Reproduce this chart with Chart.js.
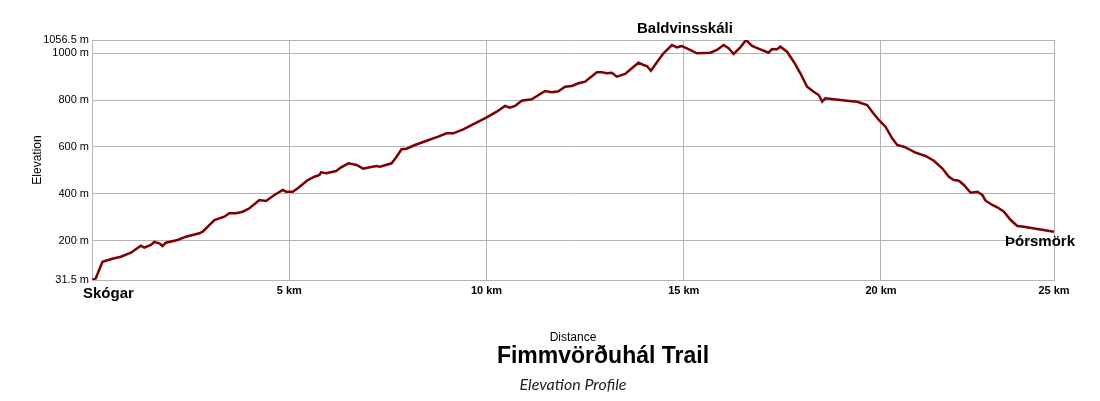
<!DOCTYPE html>
<html><head><meta charset="utf-8">
<script src="https://cdn.jsdelivr.net/npm/chart.js@4/dist/chart.umd.min.js"></script>
<style>html,body{margin:0;padding:0;background:#fff}#wrap{width:1100px;height:401px;position:relative}</style>
</head><body><div id="wrap"><canvas id="c" width="1100" height="401"></canvas></div>
<script>
// ---- data ----
const distanceKm = [0,0.096,0.266,0.350,0.520,0.731,0.985,1.239,1.325,1.492,1.579,1.706,1.789,1.873,2.170,2.381,2.721,2.805,3.102,3.355,3.482,3.650,3.820,3.990,4.244,4.411,4.624,4.835,4.919,5.089,5.216,5.470,5.640,5.766,5.807,5.934,6.188,6.315,6.503,6.706,6.873,7.043,7.213,7.297,7.594,7.721,7.848,7.975,8.185,8.482,8.777,8.990,9.157,9.411,9.708,10.005,10.259,10.470,10.596,10.723,10.893,11.147,11.485,11.655,11.822,11.992,12.162,12.330,12.500,12.797,12.924,13.051,13.178,13.305,13.515,13.685,13.853,13.980,14.066,14.168,14.360,14.487,14.701,14.827,14.954,15.081,15.335,15.673,15.843,16.010,16.137,16.264,16.434,16.579,16.731,16.942,17.152,17.239,17.365,17.449,17.619,17.787,17.957,18.127,18.294,18.421,18.508,18.591,18.802,19.142,19.396,19.650,19.777,19.944,20.114,20.284,20.411,20.579,20.749,20.876,21.129,21.340,21.553,21.721,21.848,21.975,22.102,22.272,22.442,22.569,22.652,22.822,22.949,23.117,23.287,23.457,23.624,23.964,24.386];
const elevationM = [31.5,38.7,109.6,113.9,122.4,131,148,178,169.4,181,193.8,188.2,176.7,190.8,202.3,216.4,230.9,237.8,287.7,301.8,316.3,316.3,323.2,337.7,373.1,368.9,394.5,415.8,408.6,408.6,423.1,458.5,472.7,479.9,491.5,487.2,497,512.8,529.9,522.6,506.8,512.8,518.4,515.4,529.9,558.1,589.7,592.2,608,626.4,643.5,658,658,675.1,700.7,726.4,750.3,774.6,767.4,774.6,797.3,803.2,838.7,833.1,837.4,857,860,871.6,878.4,918.5,918.5,914.3,916.8,899.8,911.3,935.6,959.5,949.7,945.5,925.4,971.1,999.7,1035.1,1025.3,1030.9,1021.1,999.7,1002.3,1013.8,1035.1,1021.1,996.7,1025.3,1056.5,1030.9,1016.8,1002.3,1018.1,1016.8,1027.9,1006.5,963.8,914.3,857,835.7,821.6,793,807.5,803.2,797.3,793,778.9,750.3,714.8,686.2,636.7,608,600.8,586.7,575.2,561.1,541,508.5,472.7,458.5,455.6,437.2,404.3,408.6,394.5,370.1,351.8,342,323.2,287.7,262.1,259.1,249.3,237.8];
const yTickValues = [31.5,200,400,600,800,1000,1056.5];
const xTickValues = [0,5,10,15,20,24.386];
const xTickLabels = ['','5 km','10 km','15 km','20 km','25 km'];
const placeNames = ['Skógar','Baldvinsskáli','Þórsmörk'];
const placeKm = [0,15.03,24.386];
const placeM = [31.5,1030,237.8];
const chartTitle = 'Fimmvörðuhál Trail';
const chartSubtitle = 'Elevation Profile';

const SANS = '"Liberation Sans", Arial, Helvetica, sans-serif';
const GRID = '#b4b4b4';

const points = distanceKm.map((x,i)=>({x, y: elevationM[i]}));

const labelsPlugin = {
  id: 'labels',
  afterDraw(chart) {
    const {ctx, chartArea, scales:{x, y}} = chart;
    ctx.save();
    ctx.fillStyle = '#000';
    ctx.font = 'bold 15px ' + SANS;
    ctx.textBaseline = 'middle';
    ctx.textAlign = 'left';
    ctx.fillText(placeNames[0], x.getPixelForValue(placeKm[0]) - 9, chartArea.bottom + 14);
    ctx.textAlign = 'center';
    ctx.fillText(placeNames[1], x.getPixelForValue(placeKm[1]), chartArea.top - 11);
    ctx.fillText(placeNames[2], x.getPixelForValue(placeKm[2]) - 14, y.getPixelForValue(placeM[2]) + 10);
    const cx = (chartArea.left + chartArea.right) / 2;
    ctx.font = 'bold 23px ' + SANS;
    ctx.fillText(chartTitle, cx + 30, 357);
    ctx.font = 'italic 16px Lato, "Open Sans", sans-serif';
    ctx.fillStyle = '#222';
    ctx.fillText(chartSubtitle, cx, 385);
    ctx.restore();
  }
};

new Chart(document.getElementById('c'), {
  type: 'line',
  data: {
    datasets: [{
      data: points,
      borderColor: '#800000',
      borderWidth: 2.5,
      pointRadius: 0,
      tension: 0,
      fill: false
    }]
  },
  options: {
    responsive: false,
    animation: false,
    devicePixelRatio: 1,
    layout: { padding: { top: 40, right: 46, bottom: 51, left: 0 } },
    plugins: { legend: { display: false }, tooltip: { enabled: false }, title: { display: false } },
    scales: {
      x: {
        type: 'linear',
        min: 0,
        max: 24.386,
        afterBuildTicks: s => { s.ticks = xTickValues.map(v => ({ value: v })); },
        afterFit: s => { s.height = 70; },
        ticks: {
          autoSkip: false, maxRotation: 0, padding: 4,
          color: '#000',
          font: { family: SANS, size: 11, weight: 'bold' },
          callback: (v, i) => xTickLabels[i]
        },
        grid: { color: GRID, drawTicks: false, lineWidth: 1 },
        border: { color: GRID },
        title: { display: true, text: 'Distance', color: '#000', font: { family: SANS, size: 12 }, padding: { top: 0, bottom: 5 } }
      },
      y: {
        type: 'linear',
        min: 31.5,
        max: 1056.5,
        afterBuildTicks: s => { s.ticks = yTickValues.map(v => ({ value: v })); },
        afterFit: s => { s.width = 92; },
        ticks: {
          autoSkip: false, padding: 3,
          color: '#000',
          font: { family: SANS, size: 11 },
          callback: v => v + ' m'
        },
        grid: { color: GRID, drawTicks: false, lineWidth: 1 },
        border: { color: GRID },
        title: { display: true, text: 'Elevation', color: '#000', font: { family: SANS, size: 12 }, padding: { top: 30, bottom: 0 } }
      }
    }
  },
  plugins: [labelsPlugin]
});
</script>
</body></html>
